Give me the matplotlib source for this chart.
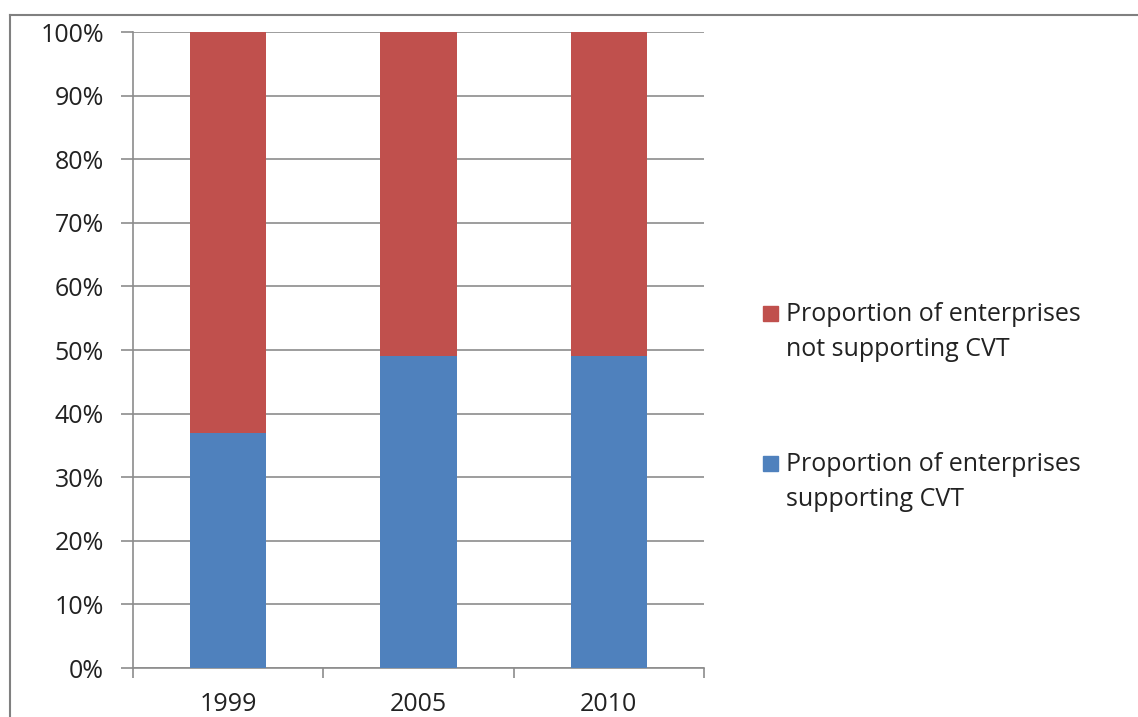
import matplotlib
matplotlib.use("Agg")
import matplotlib.pyplot as plt
from matplotlib.patches import Rectangle
from matplotlib.lines import Line2D
import numpy as np

years = ["1999", "2005", "2010"]
supporting = [37, 49, 49]
not_supporting = [63, 51, 51]
legend_labels = ["Proportion of enterprises\nnot supporting CVT",
                 "Proportion of enterprises\nsupporting CVT"]

blue = "#4f81bd"
red = "#c0504d"
grid_col = "#8c8c8c"
text_col = "#222222"

plt.rcParams['font.family'] = ['Open Sans', 'DejaVu Sans']

W, H = 1138, 717
fig = plt.figure(figsize=(W / 100, H / 100), dpi=100)
ax = fig.add_axes([133/W, 1 - 668/H, (704-133)/W, (668-32)/H])

x = np.arange(len(years))
ax.bar(x, supporting, width=0.4, color=blue, zorder=3)
ax.bar(x, not_supporting, width=0.4, bottom=supporting, color=red, zorder=3)

ax.set_xlim(-0.5, len(years) - 0.5)
ax.set_ylim(0, 100)
ax.set_yticks(np.arange(0, 101, 10))
ax.set_yticklabels([f"{v}%" for v in range(0, 101, 10)])
ax.set_xticks(x)
ax.set_xticklabels(years)
ax.tick_params(axis='x', length=0, pad=17, labelsize=18, labelcolor=text_col)
ax.tick_params(axis='y', length=9, width=1.2, color=grid_col, pad=12, labelsize=18, labelcolor=text_col)
ax.set_xticks(np.arange(-0.5, len(years)), minor=True)
ax.tick_params(axis='x', which='minor', length=7, width=1.2, color=grid_col)

ax.grid(axis='y', color=grid_col, linewidth=1.2, zorder=0)
for s in ["top", "right"]:
    ax.spines[s].set_visible(False)
for s in ["left", "bottom"]:
    ax.spines[s].set_color(grid_col)
    ax.spines[s].set_linewidth(1.2)

# outer frame of the cropped screenshot
fig.add_artist(Line2D([10/W, 10/W], [0, 1 - 15/H], transform=fig.transFigure, color="#808080", lw=1.5))
fig.add_artist(Line2D([10/W, 1], [1 - 15/H, 1 - 15/H], transform=fig.transFigure, color="#808080", lw=1.5))

# legend, laid out by hand like the Excel one
for i, (lab, col) in enumerate(zip(legend_labels, [red, blue])):
    y_first = 313 + 150 * i
    fig.add_artist(Rectangle((763/W, 1 - (y_first + 8)/H), 15/W, 15/H,
                             transform=fig.transFigure, color=col))
    fig.text(786/W, 1 - (y_first + 19)/H, lab, fontsize=18, color=text_col,
             va="center", ha="left", linespacing=1.5)

fig.savefig("out.png", dpi=100)
